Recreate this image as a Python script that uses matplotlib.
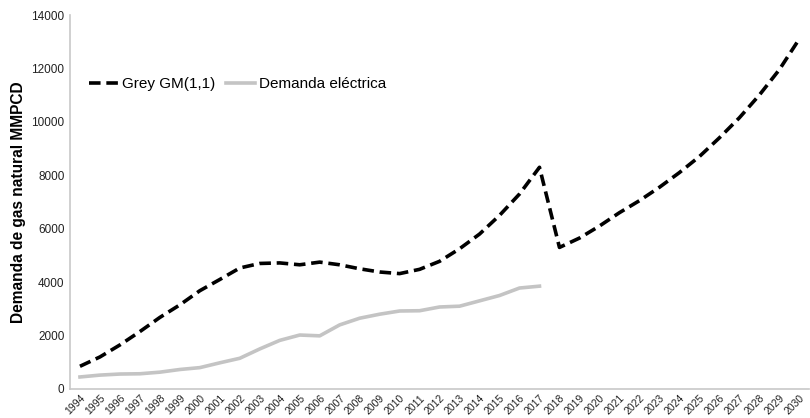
import matplotlib
matplotlib.use("Agg")
import matplotlib.pyplot as plt

plt.rcParams['font.family'] = ['Liberation Sans', 'DejaVu Sans']

years = [str(y) for y in range(1994, 2031)]
grey_gm = [850, 1200, 1650, 2150, 2680, 3150, 3680, 4100, 4530, 4700, 4720, 4650,
           4750, 4650, 4500, 4380, 4320, 4480, 4780, 5250, 5800, 6500, 7300, 8300,
           5300, 5650, 6100, 6600, 7050, 7550, 8100, 8700, 9400, 10150, 11000, 11950, 13100]
demanda = [450, 520, 560, 570, 630, 730, 800, 980, 1150, 1500, 1820, 2020,
           1990, 2400, 2650, 2800, 2920, 2930, 3070, 3100, 3300, 3500, 3780, 3850]
yticks = [0, 2000, 4000, 6000, 8000, 10000, 12000, 14000]

fig = plt.figure(figsize=(8.1, 4.18), dpi=100)
ax = fig.add_axes([0.0864, 0.0694, 0.9126, 0.8946])

x_all = list(range(len(years)))
ax.plot(x_all, grey_gm, color='black', linestyle=(0, (3.2, 1.6)), linewidth=2.6,
        label='Grey GM(1,1)')
ax.plot(x_all[:len(demanda)], demanda, color='#c4c4c4', linewidth=2.6,
        label='Demanda eléctrica')

ax.set_xlim(-0.5, len(years) - 0.5)
ax.set_ylim(0, 14000)
ax.set_yticks(yticks)
ax.set_yticklabels([str(v) for v in yticks], fontsize=8.5, color='#222222')
ax.set_xticks(x_all)
ax.set_xticklabels(years, rotation=45, fontsize=7.5, ha='right', rotation_mode='anchor',
                   color='#222222')
ax.tick_params(axis='both', length=0, pad=4)
ax.tick_params(axis='x', pad=3)

for s in ['top', 'right']:
    ax.spines[s].set_visible(False)
for s in ['left', 'bottom']:
    ax.spines[s].set_color('#c8c8c8')
    ax.spines[s].set_linewidth(1.2)

ax.set_ylabel('Demanda de gas natural MMPCD', fontsize=11.2, fontweight='bold', labelpad=4)

ax.legend(loc='upper left', bbox_to_anchor=(0.007, 0.87), ncol=2, frameon=False,
          fontsize=11, handlelength=1.9, handletextpad=0.25, columnspacing=0.7)

fig.savefig('out.png', dpi=100)
